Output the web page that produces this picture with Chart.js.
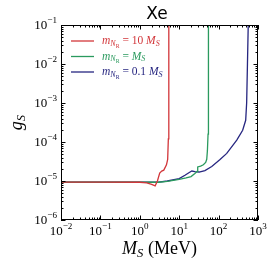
<!DOCTYPE html>
<html>
<head>
<meta charset="utf-8">
<script src="https://cdn.jsdelivr.net/npm/chart.js@4"></script>
<style>
  html, body { margin: 0; padding: 0; background: #fff; }
  #wrap { width: 272px; height: 268px; }
</style>
</head>
<body>
<div id="wrap"><canvas id="chart"></canvas></div>
<script>
// values
const redX = [0.01, 0.1, 1, 1.5, 2, 2.45, 2.8, 3.2, 3.6, 4.06, 4.75, 5.1, 5.3, 5.4, 5.45, 5.5];
const redY = [9.4e-6, 9.4e-6, 9.3e-6, 9.0e-6, 8.2e-6, 7.5e-6, 1.0e-5, 1.6e-5, 1.8e-5, 1.9e-5, 2.6e-5, 3.6e-5, 1.2e-4, 1e-3, 1e-2, 0.1];

const greenX = [0.01, 0.1, 1, 3, 5, 10, 15, 20, 25, 28.5, 29.5, 35, 41, 47, 50, 52, 54, 55, 55.5];
const greenY = [9.4e-6, 9.4e-6, 9.3e-6, 9.3e-6, 9.8e-6, 1.1e-5, 1.2e-5, 1.3e-5, 1.55e-5, 1.75e-5, 2.3e-5, 2.4e-5, 2.6e-5, 3e-5, 3.6e-5, 6e-5, 1.6e-4, 1e-3, 0.1];

const blueX = [0.01, 0.1, 1, 3, 5, 10, 14, 18, 21, 25, 32, 45, 67, 107, 161, 289, 408, 487, 515, 540, 565];
const blueY = [9.4e-6, 9.4e-6, 9.3e-6, 9.4e-6, 1.0e-5, 1.15e-5, 1.4e-5, 1.65e-5, 1.8e-5, 1.75e-5, 1.7e-5, 1.85e-5, 2.35e-5, 3.5e-5, 5.1e-5, 1.12e-4, 2e-4, 3.6e-4, 1e-3, 1e-2, 0.1];

const xExps = [-2, -1, 0, 1, 2, 3];
const yExps = [-6, -5, -4, -3, -2, -1];
const colors = ['#d2363a', '#2a9a5e', '#262680'];

const SERIF = '"Liberation Serif", "DejaVu Serif", serif';

function pts(xs, ys) { return xs.map((x, i) => ({ x: x, y: ys[i] })); }

// text with sub/superscript pieces: [text, italic, level]  level: 0 base, 1 sub, 2 subsub, -1 sup
function pieceFont(p, size) {
  const s = p[2] === 0 ? size : p[2] === 2 ? size * 0.5 : size * 0.7;
  return (p[1] ? 'italic ' : '') + s + 'px ' + SERIF;
}
function pieceShift(p, size) {
  if (p[2] === 1) return size * 0.25;
  if (p[2] === 2) return size * 0.45;
  if (p[2] === -1) return -size * 0.42;
  return 0;
}
function measure(ctx, parts, size) {
  let w = 0;
  parts.forEach(p => { ctx.font = pieceFont(p, size); w += ctx.measureText(p[0]).width; });
  return w;
}
function drawParts(ctx, parts, x, y, size) {
  parts.forEach(p => {
    ctx.font = pieceFont(p, size);
    ctx.fillText(p[0], x, y + pieceShift(p, size));
    x += ctx.measureText(p[0]).width;
  });
}

const legendParts = [
  [['m', true, 0], ['N', true, 1], ['R', false, 2], [' = 10 ', false, 0], ['M', true, 0], ['S', true, 1]],
  [['m', true, 0], ['N', true, 1], ['R', false, 2], [' = ', false, 0], ['M', true, 0], ['S', true, 1]],
  [['m', true, 0], ['N', true, 1], ['R', false, 2], [' = 0.1 ', false, 0], ['M', true, 0], ['S', true, 1]]
];

const decor = {
  id: 'decor',
  afterDraw(chart) {
    const ctx = chart.ctx;
    const a = chart.chartArea;
    const xs = chart.scales.x, ys = chart.scales.y;
    ctx.save();
    ctx.strokeStyle = '#000';
    ctx.fillStyle = '#000';
    ctx.lineWidth = 1;
    ctx.strokeRect(a.left + 0.5, a.top + 0.5, a.right - a.left - 1, a.bottom - a.top - 1);

    // inward ticks on all four sides
    ctx.beginPath();
    xExps.forEach((e, i) => {
      for (let k = 1; k <= 9; k++) {
        if (k > 1 && i === xExps.length - 1) break;
        const px = Math.round(xs.getPixelForValue(k * Math.pow(10, e))) + 0.5;
        const len = k === 1 ? 4.5 : 2.5;
        ctx.moveTo(px, a.bottom); ctx.lineTo(px, a.bottom - len);
        ctx.moveTo(px, a.top); ctx.lineTo(px, a.top + len);
      }
    });
    yExps.forEach((e, i) => {
      for (let k = 1; k <= 9; k++) {
        if (k > 1 && i === yExps.length - 1) break;
        const py = Math.round(ys.getPixelForValue(k * Math.pow(10, e))) + 0.5;
        const len = k === 1 ? 4.5 : 2.5;
        ctx.moveTo(a.left, py); ctx.lineTo(a.left + len, py);
        ctx.moveTo(a.right, py); ctx.lineTo(a.right - len, py);
      }
    });
    ctx.stroke();

    // tick labels
    ctx.textBaseline = 'middle';
    ctx.textAlign = 'left';
    xExps.forEach(e => {
      const parts = [['10', false, 0], ['\u2212' + Math.abs(e), false, -1]];
      if (e >= 0) parts[1][0] = String(e);
      const w = measure(ctx, parts, 13);
      drawParts(ctx, parts, xs.getPixelForValue(Math.pow(10, e)) - w / 2, a.bottom + 12, 13);
    });
    yExps.forEach(e => {
      const parts = [['10', false, 0], ['\u2212' + Math.abs(e), false, -1]];
      const w = measure(ctx, parts, 13);
      drawParts(ctx, parts, a.left - 4 - w, ys.getPixelForValue(Math.pow(10, e)) + 1, 13);
    });

    // axis titles
    const xt = [['M', true, 0], ['S', true, 1], [' (MeV)', false, 0]];
    const xw = measure(ctx, xt, 18);
    drawParts(ctx, xt, (a.left + a.right) / 2 - xw / 2, 249, 18);

    ctx.save();
    ctx.translate(17, (a.top + a.bottom) / 2);
    ctx.rotate(-Math.PI / 2);
    const yt = [['g', true, 0], ['S', true, 1]];
    const yw = measure(ctx, yt, 18);
    drawParts(ctx, yt, -yw / 2, 0, 18);
    ctx.restore();

    // title
    ctx.font = '17px "DejaVu Sans", sans-serif';
    ctx.textAlign = 'center';
    ctx.textBaseline = 'alphabetic';
    ctx.fillText('Xe', 157, 19);

    // legend
    ctx.textAlign = 'left';
    ctx.textBaseline = 'middle';
    const rows = [41, 56.5, 72];
    rows.forEach((ry, i) => {
      ctx.strokeStyle = colors[i];
      ctx.fillStyle = colors[i];
      ctx.lineWidth = 1.3;
      ctx.beginPath();
      ctx.moveTo(71, ry); ctx.lineTo(94, ry);
      ctx.stroke();
      drawParts(ctx, legendParts[i], 102, ry, 11.5);
    });
    ctx.restore();
  }
};

new Chart(document.getElementById('chart'), {
  type: 'scatter',
  data: {
    datasets: [
      { label: 'm_NR = 10 M_S', data: pts(redX, redY), borderColor: colors[0] },
      { label: 'm_NR = M_S', data: pts(greenX, greenY), borderColor: colors[1] },
      { label: 'm_NR = 0.1 M_S', data: pts(blueX, blueY), borderColor: colors[2] }
    ].map(d => Object.assign(d, { showLine: true, pointRadius: 0, borderWidth: 1.3, tension: 0, fill: false }))
  },
  options: {
    responsive: true,
    maintainAspectRatio: false,
    animation: false,
    devicePixelRatio: 1,
    layout: { padding: { left: 61, right: 14, top: 25, bottom: 48 } },
    plugins: { legend: { display: false }, tooltip: { enabled: false } },
    scales: {
      x: {
        type: 'logarithmic', min: 0.01, max: 1000,
        ticks: { display: false },
        grid: { display: false, drawTicks: false },
        border: { display: false }
      },
      y: {
        type: 'logarithmic', min: 1e-6, max: 0.1,
        ticks: { display: false },
        grid: { display: false, drawTicks: false },
        border: { display: false }
      }
    }
  },
  plugins: [decor]
});
</script>
</body>
</html>
